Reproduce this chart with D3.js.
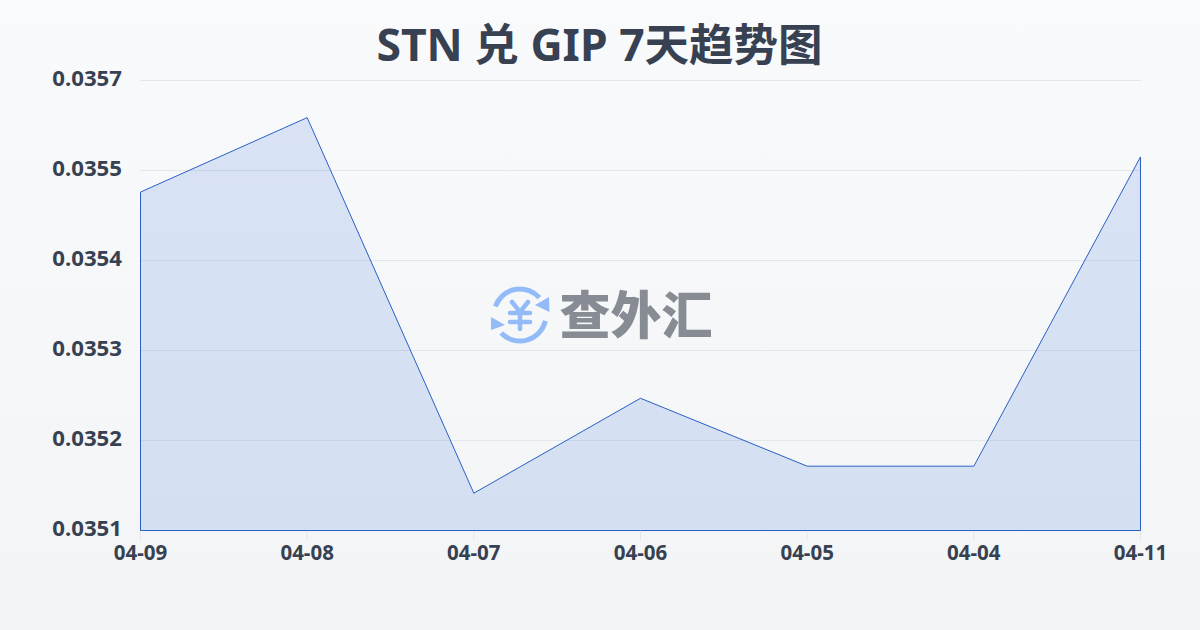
<!DOCTYPE html>
<html><head><meta charset="utf-8">
<script src="https://cdn.jsdelivr.net/npm/d3@7"></script>
<style>html,body{margin:0;padding:0;overflow:hidden}svg{display:block}</style>
</head><body><svg id="c" width="1200" height="630"></svg>
<script>
const categories = ["04-09","04-08","04-07","04-06","04-05","04-04","04-11"];
const rates = [0.035513,0.035604,0.035145,0.035261,0.035178,0.035178,0.035556];
const yTickValues = [0.0351,0.03521,0.03532,0.03543,0.03554,0.03565];
const yTickLabels = ["0.0351","0.0352","0.0353","0.0354","0.0355","0.0357"];
const titleText = "STN 兑 GIP 7天趋势图";
const watermarkText = "查外汇";
const FONT = '"Noto Sans","Noto Sans CJK SC",sans-serif';
const ink = "#374151";

const svg = d3.select("#c");
const defs = svg.append("defs");
const bg = defs.append("linearGradient").attr("id","bg").attr("x1",0).attr("y1",0).attr("x2",0).attr("y2",1);
bg.append("stop").attr("offset",0).attr("stop-color","#f9fafc");
bg.append("stop").attr("offset",1).attr("stop-color","#f2f4f6");
svg.append("rect").attr("width",1200).attr("height",630).attr("fill","url(#bg)");

const x = d3.scalePoint().domain(categories).range([140.5,1140.5]);
const y = d3.scaleLinear().domain([0.0351,0.03565]).range([530,80]);

svg.append("text").attr("x",599.5).attr("y",61).attr("text-anchor","middle")
  .attr("font-family",FONT).attr("font-weight",700).attr("font-size",44.5).attr("fill",ink).text(titleText);

// grid
svg.append("g").selectAll("line").data(yTickValues).join("line")
  .attr("x1",140).attr("x2",1141).attr("y1",d=>Math.round(y(d))+0.5).attr("y2",d=>Math.round(y(d))+0.5)
  .attr("stroke","#e3e6eb").attr("stroke-width",1);

// x tick marks
svg.append("g").selectAll("line").data(categories).join("line")
  .attr("x1",d=>x(d)).attr("x2",d=>x(d)).attr("y1",530).attr("y2",540)
  .attr("stroke","#e3e6eb").attr("stroke-width",1);

// watermark
const wm = svg.append("g").attr("transform","translate(520,315)");
const blue = "#93bbf8";
const arc = d3.arc().innerRadius(26).outerRadius(26);
wm.append("path").attr("d",arc({startAngle:-1.24,endAngle:0.84})).attr("fill","none").attr("stroke",blue).attr("stroke-width",5).attr("stroke-linecap","round");
wm.append("path").attr("d",arc({startAngle:1.8,endAngle:3.95})).attr("fill","none").attr("stroke",blue).attr("stroke-width",5).attr("stroke-linecap","round");
wm.append("path").attr("d","M29,-18 L29.5,-3 L15,-10 Z").attr("fill",blue);
wm.append("path").attr("d","M-29,2 L-29,15 L-15,10 Z").attr("fill",blue);
wm.append("path").attr("d","M-8,-13 L0,-3 L8,-13 M-10,-2 H10 M-10,7 H10 M0,-3 V14").attr("fill","none").attr("stroke",blue).attr("stroke-width",4.5).attr("stroke-linecap","round").attr("stroke-linejoin","round");
svg.append("text").attr("x",636).attr("y",334).attr("text-anchor","middle")
  .attr("font-family",FONT).attr("font-weight",900).attr("font-size",51).attr("fill","#868b94").text(watermarkText);

// area
const area = d3.area().x((d,i)=>x(categories[i])).y0(y(0.0351)+0.5).y1(d=>y(d));
svg.append("path").datum(rates).attr("d",area).attr("fill","#2b62d6").attr("fill-opacity",0.15);
svg.append("path").datum(rates).attr("d",area).attr("fill","none").attr("stroke","#2a5fc4").attr("stroke-width",1);

// labels
svg.append("g").selectAll("text").data(yTickValues).join("text")
  .attr("x",122).attr("y",d=>y(d)+6).attr("text-anchor","end")
  .attr("font-family",FONT).attr("font-weight",700).attr("font-size",22.2).attr("fill",ink)
  .text((d,i)=>yTickLabels[i]);
svg.append("g").selectAll("text").data(categories).join("text")
  .attr("x",d=>x(d)).attr("y",560).attr("text-anchor","middle")
  .attr("font-family",FONT).attr("font-weight",700).attr("font-size",20.5).attr("fill",ink)
  .text(d=>d);
</script></body></html>
